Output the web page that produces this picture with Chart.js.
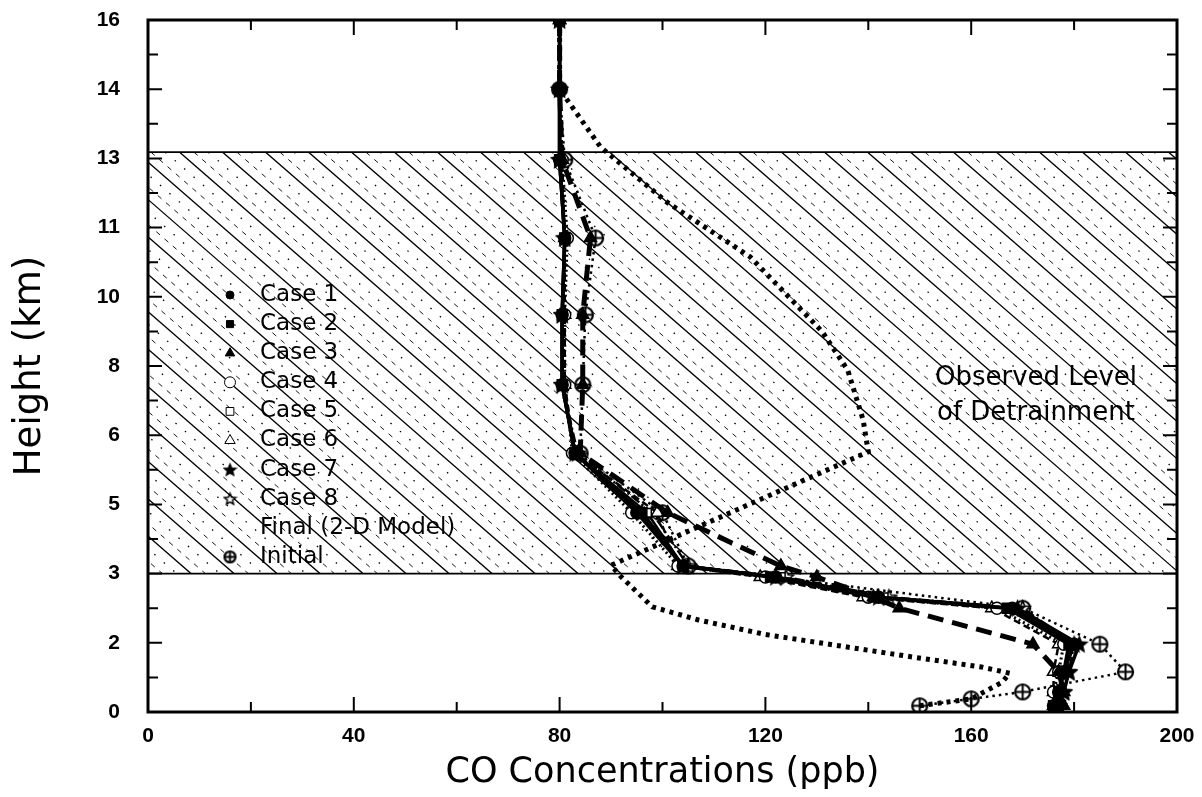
<!DOCTYPE html>
<html>
<head>
<meta charset="utf-8">
<title>CO Concentrations vs Height</title>
<script src="https://cdn.jsdelivr.net/npm/chart.js@4.4.1/dist/chart.umd.min.js"></script>
<style>
  html, body { margin: 0; padding: 0; background: #fff; }
  #wrap { width: 1202px; height: 797px; }
</style>
</head>
<body>
<div id="wrap"><canvas id="chart" width="1202" height="797"></canvas></div>
<script>
// y axis is evenly spaced in model levels, labelled with heights in km
const heightLabels = ['0', '2', '3', '5', '6', '8', '10', '11', '13', '14', '16'];
const xTickStep = 40;

// levels (axis units 0..10) shared by the eight cases
const caseLevels = [10, 9.0, 7.98, 6.85, 5.74, 4.73, 3.74, 2.88, 2.11, 1.95, 1.66, 1.5, 0.98, 0.58, 0.29, 0.09];
const case1 = [80, 80, 80, 81, 80.5, 80.5, 83, 95, 104, 122, 142, 168, 180, 178, 177, 177];
const case2 = [80, 80, 80, 81, 80.5, 80.5, 83, 96, 104, 121, 141, 167, 179, 178, 177, 176];
const case3 = [80, 80, 80.5, 86, 84.5, 84.5, 84, 101, 123, 130, 141, 146, 172, 177, 178, 178];
const case4 = [80, 80, 80.5, 81.5, 81, 81, 82.5, 94, 103, 120, 140, 165, 178, 177, 176, 176];
const case5 = [80, 80, 80, 81, 80.5, 80.5, 83, 97, 104, 123, 143, 168, 180, 178, 177, 177];
const case6 = [80, 80, 80.5, 81, 81, 81, 83, 99, 103, 119, 139, 164, 177, 176, 176, 176];
const case7 = [80, 80, 80, 81, 80.5, 80.5, 83, 96, 104, 122, 142, 169, 181, 179, 178, 177];
const case8 = [80, 80, 80, 81, 80.5, 80.5, 83.5, 98, 105, 124, 144, 170, 180, 179, 178, 177];

// final profile of the 2-D model
const finalLevels = [10, 9.0, 8.16, 7.36, 6.58, 5.5, 4.94, 4.22, 3.76, 2.12, 1.95, 1.52, 1.33, 1.12, 0.79, 0.65, 0.56, 0.43, 0.19, 0.09];
const finalValues = [80, 80, 88, 101, 117, 131, 136, 139, 140, 90, 92, 98, 107, 120, 149, 162, 167.5, 166, 160, 150];

// initial profile
const initialLevels = [9.0, 7.98, 6.85, 5.74, 4.73, 3.74, 2.88, 2.11, 1.5, 0.98, 0.58, 0.29, 0.19, 0.09];
const initialValues = [80, 81, 87, 85, 84.5, 84, 100, 105, 170, 185, 190, 170, 160, 150];

// observed detrainment layer (axis level units)
const bandBottom = 2.0;
const bandTop = 8.09;

const caseLabels = ['Case 1', 'Case 2', 'Case 3', 'Case 4', 'Case 5', 'Case 6', 'Case 7', 'Case 8'];

/**
 * 生成点样式画布（星形 / 带十字的圆）
 */
function makeStar(filled, r) {
  const size = Math.ceil(r * 2 + 3);
  const c = document.createElement('canvas');
  c.width = size; c.height = size;
  const g = c.getContext('2d');
  const m = size / 2;
  g.beginPath();
  for (let i = 0; i < 10; i++) {
    const rr = i % 2 === 0 ? r : r * 0.45;
    const a = -Math.PI / 2 + i * Math.PI / 5;
    g.lineTo(m + rr * Math.cos(a), m + 0.6 + rr * Math.sin(a));
  }
  g.closePath();
  g.fillStyle = filled ? '#000' : '#fff';
  g.fill();
  g.lineWidth = 1.5;
  g.strokeStyle = '#000';
  g.stroke();
  return c;
}

function makeCirclePlus(r) {
  const size = Math.ceil(r * 2 + 4);
  const c = document.createElement('canvas');
  c.width = size; c.height = size;
  const g = c.getContext('2d');
  const m = size / 2;
  g.beginPath();
  g.arc(m, m, r, 0, Math.PI * 2);
  g.fillStyle = '#fff';
  g.fill();
  g.lineWidth = 2.2;
  g.strokeStyle = '#000';
  g.stroke();
  g.beginPath();
  g.moveTo(m, m - r + 1); g.lineTo(m, m + r - 1);
  g.moveTo(m - r + 1, m); g.lineTo(m + r - 1, m);
  g.lineWidth = 2;
  g.stroke();
  return c;
}

const starFilled = makeStar(true, 8);
const starOpen = makeStar(false, 8);
const circlePlus = makeCirclePlus(7.5);
const legendStarFilled = makeStar(true, 6);
const legendStarOpen = makeStar(false, 6);
const legendCirclePlus = makeCirclePlus(5.5);

const caseStyles = [
  { pointStyle: 'circle', filled: true, radius: 6, dash: [], width: 3.5 },
  { pointStyle: 'rect', filled: true, radius: 7, dash: [], width: 3.5 },
  { pointStyle: 'triangle', filled: true, radius: 7, dash: [16, 9], width: 5 },
  { pointStyle: 'circle', filled: false, radius: 6, dash: [2, 3], width: 3 },
  { pointStyle: 'rect', filled: false, radius: 6, dash: [], width: 2.5 },
  { pointStyle: 'triangle', filled: false, radius: 7, dash: [7, 4], width: 2.5 },
  { pointStyle: starFilled, filled: true, radius: 7, dash: [], width: 3.5 },
  { pointStyle: starOpen, filled: false, radius: 7, dash: [10, 3, 2, 3], width: 2.5 }
];

const legendSymbols = [
  { pointStyle: 'circle', filled: true, radius: 4 },
  { pointStyle: 'rect', filled: true, radius: 5 },
  { pointStyle: 'triangle', filled: true, radius: 5.5 },
  { pointStyle: 'circle', filled: false, radius: 5.5 },
  { pointStyle: 'rect', filled: false, radius: 5.5 },
  { pointStyle: 'triangle', filled: false, radius: 6 },
  { pointStyle: legendStarFilled, filled: true, radius: 6 },
  { pointStyle: legendStarOpen, filled: false, radius: 6 },
  null,
  { pointStyle: legendCirclePlus, filled: false, radius: 6 }
];

function toPoints(xs, ys) {
  return xs.map((x, i) => ({ x: x, y: ys[i] }));
}

const caseValues = [case1, case2, case3, case4, case5, case6, case7, case8];

const datasets = [
  {
    label: 'Final (2-D Model)',
    data: toPoints(finalValues, finalLevels),
    borderColor: '#000',
    borderWidth: 5,
    borderDash: [4, 5],
    borderCapStyle: 'butt',
    pointRadius: 0,
    fill: false,
    order: 0
  },
  {
    label: 'Initial',
    data: toPoints(initialValues, initialLevels),
    borderColor: '#000',
    borderWidth: 2.5,
    borderDash: [2.5, 4],
    pointStyle: circlePlus,
    pointRadius: 8,
    fill: false,
    order: 20
  }
];

caseValues.forEach((vals, i) => {
  const s = caseStyles[i];
  datasets.push({
    label: caseLabels[i],
    data: toPoints(vals, caseLevels),
    borderColor: '#000',
    borderWidth: s.width,
    borderDash: s.dash,
    pointStyle: s.pointStyle,
    pointRadius: s.radius,
    pointBorderWidth: 1.5,
    pointBorderColor: '#000',
    pointBackgroundColor: s.filled ? '#000' : '#fff',
    fill: false,
    order: 1 + i
  });
});

// 观测层的阴影带
const hatchPlugin = {
  id: 'hatchBand',
  beforeDatasetsDraw(chart) {
    const { ctx, chartArea: a, scales: { y } } = chart;
    const yT = y.getPixelForValue(bandTop);
    const yB = y.getPixelForValue(bandBottom);
    const h = yB - yT;
    const slope = 0.87;
    const gap = 43;
    const run = h / slope;
    ctx.save();
    ctx.beginPath();
    ctx.rect(a.left, yT, a.right - a.left, h);
    ctx.clip();
    ctx.strokeStyle = '#000';
    for (let x0 = a.left - run - gap; x0 < a.right + gap; x0 += gap) {
      ctx.setLineDash([]);
      ctx.lineWidth = 1.3;
      ctx.beginPath();
      ctx.moveTo(x0, yT); ctx.lineTo(x0 + run, yB);
      ctx.stroke();

      ctx.lineWidth = 0.9;
      ctx.setLineDash([5, 6]);
      ctx.beginPath();
      ctx.moveTo(x0 + gap / 3, yT); ctx.lineTo(x0 + gap / 3 + run, yB);
      ctx.stroke();

      ctx.lineWidth = 1.3;
      ctx.setLineDash([1.5, 11]);
      ctx.beginPath();
      ctx.moveTo(x0 + 2 * gap / 3, yT); ctx.lineTo(x0 + 2 * gap / 3 + run, yB);
      ctx.stroke();
    }
    ctx.restore();

    ctx.save();
    ctx.strokeStyle = '#000';
    ctx.lineWidth = 1.8;
    ctx.beginPath();
    ctx.moveTo(a.left, yT); ctx.lineTo(a.right, yT);
    ctx.moveTo(a.left, yB); ctx.lineTo(a.right, yB);
    ctx.stroke();
    ctx.restore();
  }
};

// 图例与文字
const legendPlugin = {
  id: 'caseLegend',
  afterDatasetsDraw(chart) {
    const { ctx } = chart;
    const labels = caseLabels.concat(['Final (2-D Model)', 'Initial']);
    ctx.save();
    ctx.font = '23px "DejaVu Sans"';
    ctx.textBaseline = 'middle';
    ctx.textAlign = 'left';
    labels.forEach((label, i) => {
      const yy = 295 + i * 29.1;
      const s = legendSymbols[i];
      if (s) {
        ctx.fillStyle = s.filled ? '#000' : '#fff';
        ctx.strokeStyle = '#000';
        Chart.helpers.drawPoint(ctx, {
          pointStyle: s.pointStyle,
          radius: s.radius,
          rotation: 0,
          borderWidth: 1.6
        }, 230, yy);
      }
      ctx.fillStyle = '#000';
      ctx.fillText(label, 260, yy);
    });
    ctx.font = '26px "DejaVu Sans"';
    ctx.fillText('Observed Level', 935, 378);
    ctx.fillText('of Detrainment', 937, 413);
    ctx.restore();
  }
};

// 边框和向内的刻度
const framePlugin = {
  id: 'frameTicks',
  afterDraw(chart) {
    const { ctx, chartArea: a, scales: { x, y } } = chart;
    ctx.save();
    ctx.strokeStyle = '#000';
    ctx.lineWidth = 2;
    ctx.beginPath();
    for (let v = 0; v <= 200; v += 20) {
      const px = x.getPixelForValue(v);
      const len = v % xTickStep === 0 ? 15 : 10;
      ctx.moveTo(px, a.bottom); ctx.lineTo(px, a.bottom - len);
      ctx.moveTo(px, a.top); ctx.lineTo(px, a.top + len);
    }
    for (let v = 0; v <= 10; v += 0.5) {
      const py = y.getPixelForValue(v);
      const len = Number.isInteger(v) ? 14 : 10;
      ctx.moveTo(a.left, py); ctx.lineTo(a.left + len, py);
      ctx.moveTo(a.right, py); ctx.lineTo(a.right - len, py);
    }
    ctx.stroke();
    ctx.lineWidth = 3;
    ctx.strokeRect(a.left, a.top, a.right - a.left, a.bottom - a.top);
    ctx.restore();
  }
};

new Chart(document.getElementById('chart'), {
  type: 'line',
  data: { datasets: datasets },
  options: {
    responsive: false,
    animation: false,
    layout: { padding: { top: 20, right: 25, bottom: 0, left: 0 } },
    plugins: {
      legend: { display: false },
      tooltip: { enabled: false }
    },
    elements: { line: { tension: 0 } },
    scales: {
      x: {
        type: 'linear',
        min: 0,
        max: 200,
        grid: { display: false },
        border: { display: false },
        ticks: {
          stepSize: xTickStep,
          padding: 4,
          color: '#000',
          font: { family: '"Liberation Sans"', size: 21, weight: 'bold' },
          maxRotation: 0
        },
        title: {
          display: true,
          text: 'CO Concentrations (ppb)',
          color: '#000',
          font: { family: '"DejaVu Sans"', size: 35 },
          padding: { top: 0, bottom: 3 }
        },
        afterFit(scale) {
          scale.height = 85;
          scale.paddingLeft = 0;
          scale.paddingRight = 0;
        }
      },
      y: {
        type: 'linear',
        min: 0,
        max: 10,
        grid: { display: false },
        border: { display: false },
        ticks: {
          stepSize: 1,
          padding: 20,
          autoSkip: false,
          color: '#000',
          font: { family: '"Liberation Sans"', size: 21, weight: 'bold' },
          callback: (v) => heightLabels[v] !== undefined ? heightLabels[v] : ''
        },
        title: {
          display: true,
          text: 'Height (km)',
          color: '#000',
          font: { family: '"DejaVu Sans"', size: 37 },
          padding: { top: 8, bottom: 0 }
        },
        afterFit(scale) {
          scale.width = 148;
          scale.paddingTop = 0;
          scale.paddingBottom = 0;
        }
      }
    }
  },
  plugins: [hatchPlugin, legendPlugin, framePlugin]
});
</script>
</body>
</html>
